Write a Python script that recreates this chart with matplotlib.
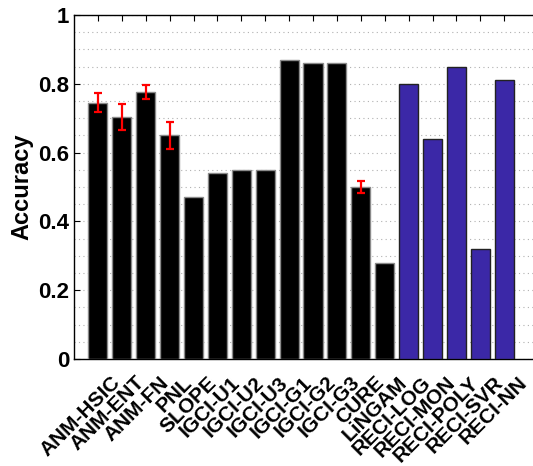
import numpy as np
import matplotlib
matplotlib.use("Agg")
import matplotlib.pyplot as plt
import matplotlib.transforms as mtransforms
from matplotlib.ticker import MultipleLocator

plt.rcParams['font.family'] = ['Liberation Sans', 'DejaVu Sans']
plt.rcParams['font.weight'] = 'bold'

# ---------------------------------------------------------------------------
# data
# ---------------------------------------------------------------------------
methods = ["ANM-HSIC", "ANM-ENT", "ANM-FN", "PNL", "SLOPE",
           "IGCI-U1", "IGCI-U2", "IGCI-U3", "IGCI-G1", "IGCI-G2", "IGCI-G3",
           "CURE", "LiNGAM",
           "RECI-LOG", "RECI-MON", "RECI-POLY", "RECI-SVR", "RECI-NN"]
accuracy = [0.745, 0.703, 0.777, 0.650, 0.470,
            0.540, 0.550, 0.550, 0.870, 0.860, 0.860,
            0.500, 0.280,
            0.800, 0.640, 0.850, 0.320, 0.810]
errors = [0.027, 0.038, 0.020, 0.040, 0.0,
          0.0, 0.0, 0.0, 0.0, 0.0, 0.0,
          0.018, 0.0,
          0.0, 0.0, 0.0, 0.0, 0.0]
is_reci = [m.startswith("RECI") for m in methods]

BLACK = "black"
BLUE = "#3b28a7"

# ---------------------------------------------------------------------------
# plot
# ---------------------------------------------------------------------------
fig = plt.figure(figsize=(5.33, 4.66), dpi=100)
ax = fig.add_axes([74 / 533, 107 / 466, 478 / 533, 344 / 466])

x = np.arange(len(methods))
colors = [BLUE if r else BLACK for r in is_reci]
edges = ["#222222" if r else "#8a8a8a" for r in is_reci]
ax.bar(x, accuracy, width=0.8, color=colors, edgecolor=edges, linewidth=1.0, zorder=3)

# error bars only where there is a spread
err_idx = [i for i, e in enumerate(errors) if e > 0]
ax.errorbar(x[err_idx], np.array(accuracy)[err_idx], yerr=np.array(errors)[err_idx],
            fmt="none", ecolor="red", elinewidth=1.6, capsize=3, capthick=1.6, zorder=4)

ax.set_xlim(-1, 19)
ax.set_ylim(0, 1)
yt = np.arange(0, 1.01, 0.2).round(1)
ax.set_yticks(yt)
ax.set_yticklabels(["%g" % v for v in yt], fontsize=16, fontweight="bold")
ax.yaxis.set_minor_locator(MultipleLocator(0.05))
ax.grid(which="both", axis="y", linestyle=(0, (1, 3)), color="#b0b0b0", linewidth=0.8, zorder=0)

ax.set_xticks(x)
ax.set_xticklabels(methods, rotation=45, ha="right", rotation_mode="anchor",
                   fontsize=15, fontweight="bold")
ax.tick_params(axis="x", direction="in", top=True, bottom=True, length=4, width=0.8, pad=10)
ax.tick_params(axis="y", which="major", direction="in", left=True, right=False, length=4, width=0.8)
ax.tick_params(axis="y", which="minor", left=False, right=False)

# shift the slanted labels a little to the right, like the original
shift = mtransforms.ScaledTranslation(0.13, 0, fig.dpi_scale_trans)
for lbl in ax.get_xticklabels():
    lbl.set_transform(lbl.get_transform() + shift)

ax.set_ylabel("Accuracy", fontsize=17, fontweight="bold")
ax.yaxis.set_label_coords(-0.084, 0.5)

for s in ax.spines.values():
    s.set_linewidth(1.0)

fig.savefig("out.png", dpi=100)
